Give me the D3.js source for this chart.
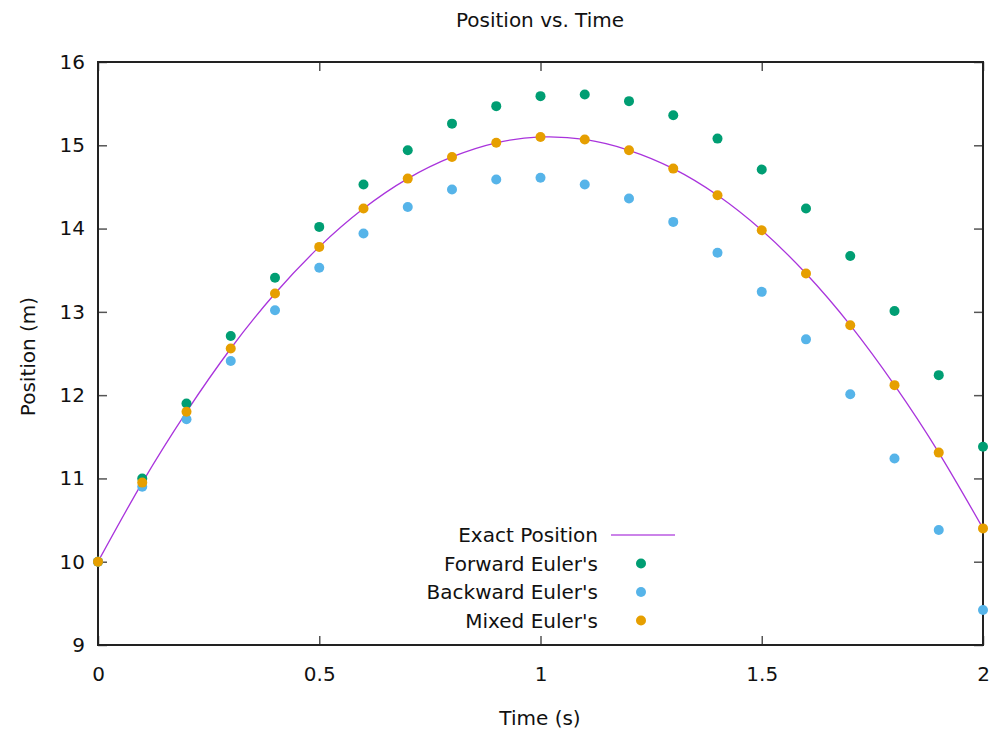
<!DOCTYPE html>
<html>
<head>
<meta charset="utf-8">
<script src="https://cdn.jsdelivr.net/npm/d3@7"></script>
<style>
  html, body { margin: 0; padding: 0; background: #fff; }
  svg text { font-family: "DejaVu Sans", Verdana, sans-serif; fill: #111; }
</style>
</head>
<body>
<svg id="chart" width="989" height="731"></svg>
<script>
// Sample times (s)
const times = [0, 0.1, 0.2, 0.3, 0.4, 0.5, 0.6, 0.7, 0.8, 0.9, 1.0,
               1.1, 1.2, 1.3, 1.4, 1.5, 1.6, 1.7, 1.8, 1.9, 2.0];

// Position (m) for each method
const exactPos = [10, 10.95, 11.80, 12.56, 13.22, 13.78, 14.24, 14.60, 14.86, 15.03, 15.10,
                  15.07, 14.94, 14.72, 14.40, 13.98, 13.46, 12.84, 12.12, 11.31, 10.40];
const forwardPos = [10, 11.00, 11.90, 12.71, 13.41, 14.02, 14.53, 14.94, 15.26, 15.47, 15.59,
                    15.61, 15.53, 15.36, 15.08, 14.71, 14.24, 13.67, 13.01, 12.24, 11.38];
const backwardPos = [10, 10.90, 11.71, 12.41, 13.02, 13.53, 13.94, 14.26, 14.47, 14.59, 14.61,
                     14.53, 14.36, 14.08, 13.71, 13.24, 12.67, 12.01, 11.24, 10.38, 9.42];
const mixedPos = [10, 10.95, 11.80, 12.56, 13.22, 13.78, 14.24, 14.60, 14.86, 15.03, 15.10,
                  15.07, 14.94, 14.72, 14.40, 13.98, 13.46, 12.84, 12.12, 11.31, 10.40];

const xTicks = [0, 0.5, 1, 1.5, 2];
const yTicks = [9, 10, 11, 12, 13, 14, 15, 16];

const seriesNames = ["Exact Position", "Forward Euler's", "Backward Euler's", "Mixed Euler's"];
const seriesColors = ["#9400d3", "#009e73", "#56b4e9", "#e69f00"];

const svg = d3.select("#chart");
const plotLeft = 98, plotRight = 983, plotTop = 62, plotBottom = 645;
const fontSize = 20;

const x = d3.scaleLinear().domain([0, 2]).range([plotLeft, plotRight]);
const y = d3.scaleLinear().domain([9, 16]).range([plotBottom, plotTop]);

const tickLen = 9;
const fmt = d => String(d);

// Axes with inward ticks (mirrored on top/right)
const axisStyle = g => {
  g.select(".domain").remove();
  g.selectAll(".tick line").attr("stroke", "#555").attr("stroke-width", 1.5);
  g.selectAll(".tick text").attr("font-size", fontSize).attr("fill", "#111");
};
svg.append("g").attr("transform", `translate(0,${plotBottom})`)
  .call(d3.axisBottom(x).tickValues(xTicks).tickFormat(fmt).tickSize(-tickLen).tickPadding(22))
  .call(axisStyle);
svg.append("g").attr("transform", `translate(0,${plotTop})`)
  .call(d3.axisTop(x).tickValues(xTicks).tickFormat("").tickSize(-tickLen))
  .call(axisStyle);
svg.append("g").attr("transform", `translate(${plotLeft},0)`)
  .call(d3.axisLeft(y).tickValues(yTicks).tickFormat(fmt).tickSize(-tickLen).tickPadding(13))
  .call(axisStyle);
svg.append("g").attr("transform", `translate(${plotRight},0)`)
  .call(d3.axisRight(y).tickValues(yTicks).tickFormat("").tickSize(-tickLen))
  .call(axisStyle);

// Plot border
svg.append("rect")
  .attr("x", plotLeft).attr("y", plotTop)
  .attr("width", plotRight - plotLeft).attr("height", plotBottom - plotTop)
  .attr("fill", "none").attr("stroke", "#222").attr("stroke-width", 2);

// Exact solution curve
const line = d3.line()
  .x((d, i) => x(times[i]))
  .y(d => y(d))
  .curve(d3.curveNatural);
svg.append("path")
  .datum(exactPos)
  .attr("d", line)
  .attr("fill", "none")
  .attr("stroke", seriesColors[0])
  .attr("stroke-width", 1.3)
  .attr("stroke-opacity", 0.8);

// Point series
[forwardPos, backwardPos, mixedPos].forEach((vals, k) => {
  svg.append("g").selectAll("circle")
    .data(vals)
    .join("circle")
    .attr("cx", (d, i) => x(times[i]))
    .attr("cy", d => y(d))
    .attr("r", 5)
    .attr("fill", seriesColors[k + 1]);
});

// Legend
const legY0 = 535, legDy = 28.5, legTextRight = 598, legSymX = 641;
seriesNames.forEach((name, i) => {
  const yy = legY0 + i * legDy;
  svg.append("text")
    .attr("x", legTextRight).attr("y", yy)
    .attr("text-anchor", "end").attr("dominant-baseline", "central")
    .attr("font-size", fontSize)
    .text(name);
  if (i === 0) {
    svg.append("line")
      .attr("x1", 611).attr("x2", 675).attr("y1", yy).attr("y2", yy)
      .attr("stroke", seriesColors[0]).attr("stroke-width", 1.5).attr("stroke-opacity", 0.65);
  } else {
    svg.append("circle")
      .attr("cx", legSymX).attr("cy", yy).attr("r", 5)
      .attr("fill", seriesColors[i]);
  }
});

// Titles
svg.append("text")
  .attr("x", 540).attr("y", 20)
  .attr("text-anchor", "middle").attr("dominant-baseline", "central")
  .attr("font-size", fontSize)
  .text("Position vs. Time");
svg.append("text")
  .attr("x", 540).attr("y", 718)
  .attr("text-anchor", "middle").attr("dominant-baseline", "central")
  .attr("font-size", fontSize)
  .text("Time (s)");
svg.append("text")
  .attr("transform", `translate(28,${(plotTop + plotBottom) / 2 + 3}) rotate(-90)`)
  .attr("text-anchor", "middle").attr("dominant-baseline", "central")
  .attr("font-size", fontSize)
  .text("Position (m)");
</script>
</body>
</html>
